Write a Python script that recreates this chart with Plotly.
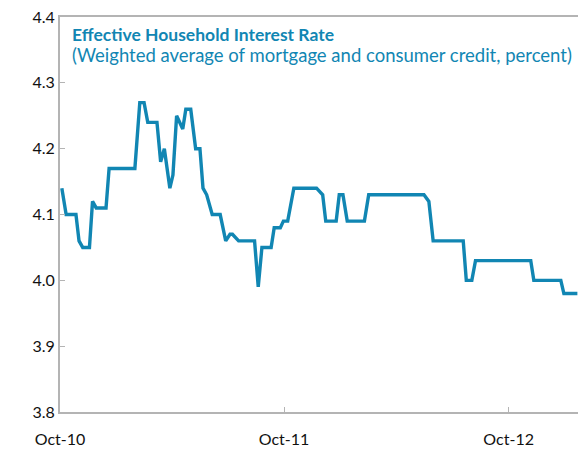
import plotly.graph_objects as go

dates = [
    "2010-10-04", "2010-10-11", "2010-10-27", "2010-11-01", "2010-11-07", "2010-11-18",
    "2010-11-23", "2010-11-29", "2010-12-15", "2010-12-20", "2011-01-31", "2011-02-08",
    "2011-02-15", "2011-02-21", "2011-03-08", "2011-03-14", "2011-03-20", "2011-03-29",
    "2011-04-03", "2011-04-09", "2011-04-19", "2011-04-24", "2011-05-02", "2011-05-10",
    "2011-05-17", "2011-05-22", "2011-05-28", "2011-06-06", "2011-06-19", "2011-06-28",
    "2011-07-05", "2011-07-09", "2011-07-19", "2011-08-14", "2011-08-20", "2011-08-26",
    "2011-09-10", "2011-09-15", "2011-09-25", "2011-09-30", "2011-10-07", "2011-10-17",
    "2011-11-23", "2011-12-03", "2011-12-08", "2011-12-25", "2011-12-30", "2012-01-05",
    "2012-01-12", "2012-02-09", "2012-02-16", "2012-05-16", "2012-05-24", "2012-05-31",
    "2012-07-19", "2012-07-24", "2012-08-02", "2012-08-08", "2012-11-06", "2012-11-11",
    "2012-12-25", "2012-12-30", "2013-01-21",
]
rates = [
    4.14, 4.10, 4.10, 4.06, 4.05, 4.05,
    4.12, 4.11, 4.11, 4.17, 4.17, 4.27,
    4.27, 4.24, 4.24, 4.18, 4.20, 4.14,
    4.16, 4.25, 4.23, 4.26, 4.26, 4.20,
    4.20, 4.14, 4.13, 4.10, 4.10, 4.06,
    4.07, 4.07, 4.06, 4.06, 3.99, 4.05,
    4.05, 4.08, 4.08, 4.09, 4.09, 4.14,
    4.14, 4.13, 4.09, 4.09, 4.13, 4.13,
    4.09, 4.09, 4.13, 4.13, 4.12, 4.06,
    4.06, 4.00, 4.00, 4.03, 4.03, 4.00,
    4.00, 3.98, 3.98,
]

x_tick_vals = ["2010-10-01", "2011-10-01", "2012-10-01"]
x_tick_text = ["Oct-10", "Oct-11", "Oct-12"]
y_tick_vals = [3.8, 3.9, 4.0, 4.1, 4.2, 4.3, 4.4]
y_tick_text = ["3.8", "3.9", "4.0", "4.1", "4.2", "4.3", "4.4"]

title_text = "Effective Household Interest Rate"
subtitle_text = "(Weighted average of mortgage and consumer credit, percent)"

teal = "#1186b3"
axis_gray = "#b4b4b4"
font_family = "Lato, 'Open Sans', sans-serif"

fig = go.Figure()
fig.add_trace(go.Scatter(
    x=dates, y=rates, mode="lines",
    line=dict(color=teal, width=3.4),
    hoverinfo="skip", showlegend=False,
))

# The page body adds an 8px margin, so the figure is sized to fit inside the window.
fig.update_layout(
    width=578, height=446,
    margin=dict(l=52, r=8, t=9, b=42),
    paper_bgcolor="white", plot_bgcolor="white",
    font=dict(family=font_family, color="#111111", size=16),
    xaxis=dict(
        type="date",
        range=["2010-10-01", "2013-01-22"],
        tickvals=x_tick_vals, ticktext=x_tick_text,
        showgrid=False, zeroline=False,
        showline=True, linecolor=axis_gray, linewidth=2, mirror=True,
        ticks="inside", ticklen=5, tickcolor=axis_gray, tickwidth=1,
        tickfont=dict(size=16, family=font_family, color="#111111"),
        automargin=False, ticklabelstandoff=12, ticklabeloverflow="allow",
    ),
    yaxis=dict(
        range=[3.8, 4.4001],
        tickvals=y_tick_vals, ticktext=y_tick_text,
        showgrid=False, zeroline=False,
        showline=True, linecolor=axis_gray, linewidth=2, mirror=True,
        ticks="inside", ticklen=5, tickcolor=axis_gray, tickwidth=1,
        tickfont=dict(size=16, family=font_family, color="#111111"),
        automargin=False, ticklabeloverflow="allow",
    ),
    annotations=[
        dict(text="<b>" + title_text + "</b>", xref="paper", yref="paper",
             x=0.019, y=0.955, xanchor="left", yanchor="middle", showarrow=False,
             font=dict(size=17.5, color=teal, family=font_family)),
        dict(text=subtitle_text, xref="paper", yref="paper",
             x=0.019, y=0.904, xanchor="left", yanchor="middle", showarrow=False,
             font=dict(size=18.5, color=teal, family=font_family)),
    ],
)

fig.write_html("out.html")
